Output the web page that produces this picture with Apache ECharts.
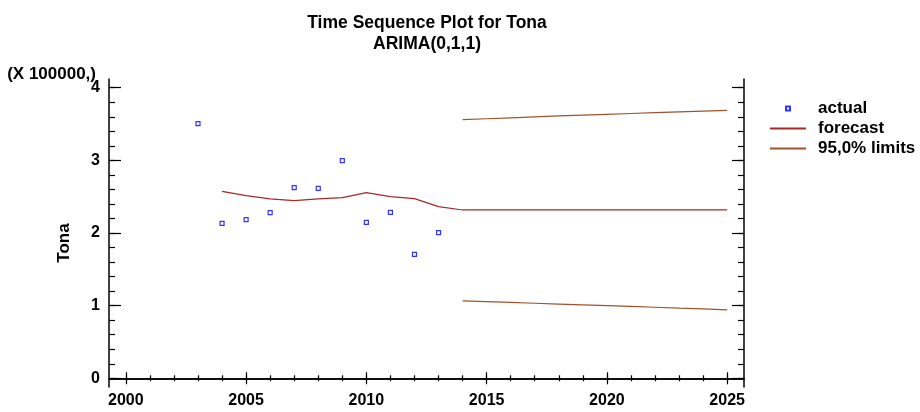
<!DOCTYPE html>
<html>
<head>
<meta charset="utf-8">
<script src="https://cdn.jsdelivr.net/npm/echarts@6/dist/echarts.min.js"></script>
<style>
html,body{margin:0;padding:0;background:#fff;}
#chart{width:920px;height:412px;}
</style>
</head>
<body>
<div id="chart"></div>
<script>
// values in units (axis shows them / 100000)
var actualYears = [2003,2004,2005,2006,2007,2008,2009,2010,2011,2012,2013];
var actualValues = [350500,213300,218400,228000,262400,261500,299600,214700,228400,170600,200500];

var forecastYears = [2004,2005,2006,2007,2008,2009,2010,2011,2012,2013,2014,2015,2016,2017,2018,2019,2020,2021,2022,2023,2024,2025];
var forecastValues = [257300,251400,246900,244500,246900,248700,255500,250000,247300,236300,231700,231700,231700,231700,231700,231700,231700,231700,231700,231700,231700,231700];

var limitYears = [2014,2015,2016,2017,2018,2019,2020,2021,2022,2023,2024,2025];
var upperValues = [356000,357300,358600,359900,361100,362300,363400,364500,365600,366700,367700,368800];
var lowerValues = [106600,105500,104400,103300,102200,101100,100000,98900,97800,96600,95500,94300];

var xMajorTicks = [2000,2005,2010,2015,2020,2025];
var xMinorTicks = [2000,2001,2002,2003,2004,2005,2006,2007,2008,2009,2010,2011,2012,2013,2014,2015,2016,2017,2018,2019,2020,2021,2022,2023,2024,2025];
var yMajorTicks = [0,100000,200000,300000,400000];
var yMinorTicks = [0,20000,40000,60000,80000,100000,120000,140000,160000,180000,200000,220000,240000,260000,280000,300000,320000,340000,360000,380000,400000];

function pairs(xs, ys){
    return xs.map(function(x,i){ return [x, ys[i]]; });
}

var font = 'Liberation Sans, Arial, sans-serif';
var xMin = 1999.3, xMax = 2025.7, yMin = -12000, yMax = 412000;

function xAx(pos, ticks, len, labels, line){
    return {
        type:'value', position:pos, min:xMin, max:xMax,
        axisLine:{show:line, lineStyle:{color:'#000',width:1.5}},
        axisTick:{inside:true, length:len, customValues:ticks, lineStyle:{color:'#000',width:1.2}},
        axisLabel:{show:labels, customValues:ticks, margin:6, color:'#000', fontSize:16, fontWeight:'bold', fontFamily:font,
            formatter:function(v){ return String(v); }},
        splitLine:{show:false}
    };
}
function yAx(pos, ticks, len, labels, line){
    return {
        type:'value', position:pos, min:yMin, max:yMax,
        axisLine:{show:line, lineStyle:{color:'#000',width:1.5}},
        axisTick:{inside:true, length:len, customValues:ticks, lineStyle:{color:'#000',width:1.2}},
        axisLabel:{show:labels, customValues:ticks, margin:9, color:'#000', fontSize:16, fontWeight:'bold', fontFamily:font,
            formatter:function(v){ return String(Math.round(v/100000)); }},
        splitLine:{show:false}
    };
}

var yMain = yAx('left', yMajorTicks, 12, true, true);
yMain.name = 'Tona';
yMain.nameLocation = 'middle';
yMain.nameGap = 36;
yMain.nameTextStyle = {color:'#000', fontSize:17, fontWeight:'bold', fontFamily:font, padding:[0,20,0,0]};

var chart = echarts.init(document.getElementById('chart'));
chart.setOption({
    animation:false,
    backgroundColor:'#fff',
    title:[{
        text:'Time Sequence Plot for Tona',
        subtext:'ARIMA(0,1,1)',
        left:422, top:9, textAlign:'center', itemGap:3,
        textStyle:{color:'#000', fontSize:17.5, fontWeight:'bold', fontFamily:font},
        subtextStyle:{color:'#000', fontSize:17.5, fontWeight:'bold', fontFamily:font}
    },{
        text:'(X 100000,)',
        right:819, top:61,
        textStyle:{color:'#000', fontSize:17, fontWeight:'bold', fontFamily:font}
    }],
    grid:{left:109, right:176, top:79, bottom:25, containLabel:false},
    legend:[{
        data:['actual'],
        left:785, top:100, orient:'vertical', padding:0,
        itemWidth:4, itemHeight:4,
        textStyle:{color:'#000', fontSize:17, fontWeight:'bold', fontFamily:font, padding:[0,0,0,23]}
    },{
        data:['forecast','95,0% limits'],
        left:769, top:120, orient:'vertical', padding:0,
        itemWidth:36, itemHeight:14, itemGap:3,
        itemStyle:{opacity:0},
        textStyle:{color:'#000', fontSize:17, fontWeight:'bold', fontFamily:font, padding:[0,0,0,7]}
    }],
    xAxis:[
        xAx('bottom', xMajorTicks, 6, true, true),
        xAx('bottom', xMinorTicks, 3, false, false),
        xAx('top', xMajorTicks, 6, false, true),
        xAx('top', xMinorTicks, 3, false, false)
    ],
    yAxis:[
        yMain,
        yAx('left', yMinorTicks, 6, false, false),
        yAx('right', yMajorTicks, 12, false, true),
        yAx('right', yMinorTicks, 6, false, false)
    ],
    series:[{
        name:'actual', type:'scatter',
        data:pairs(actualYears, actualValues),
        symbol:'rect', symbolSize:4,
        itemStyle:{color:'#fff', borderColor:'#0000ff', borderWidth:1.2}
    },{
        name:'forecast', type:'line',
        data:pairs(forecastYears, forecastValues),
        symbol:'none', showSymbol:false,
        lineStyle:{color:'#a52a2a', width:1.2},
        itemStyle:{color:'#a52a2a'}
    },{
        name:'95,0% limits', type:'line',
        data:pairs(limitYears, upperValues),
        symbol:'none', showSymbol:false,
        lineStyle:{color:'#a0522d', width:1.2},
        itemStyle:{color:'#a0522d'}
    },{
        name:'95,0% limits', type:'line',
        data:pairs(limitYears, lowerValues),
        symbol:'none', showSymbol:false,
        lineStyle:{color:'#a0522d', width:1.2},
        itemStyle:{color:'#a0522d'}
    }]
});
</script>
</body>
</html>
